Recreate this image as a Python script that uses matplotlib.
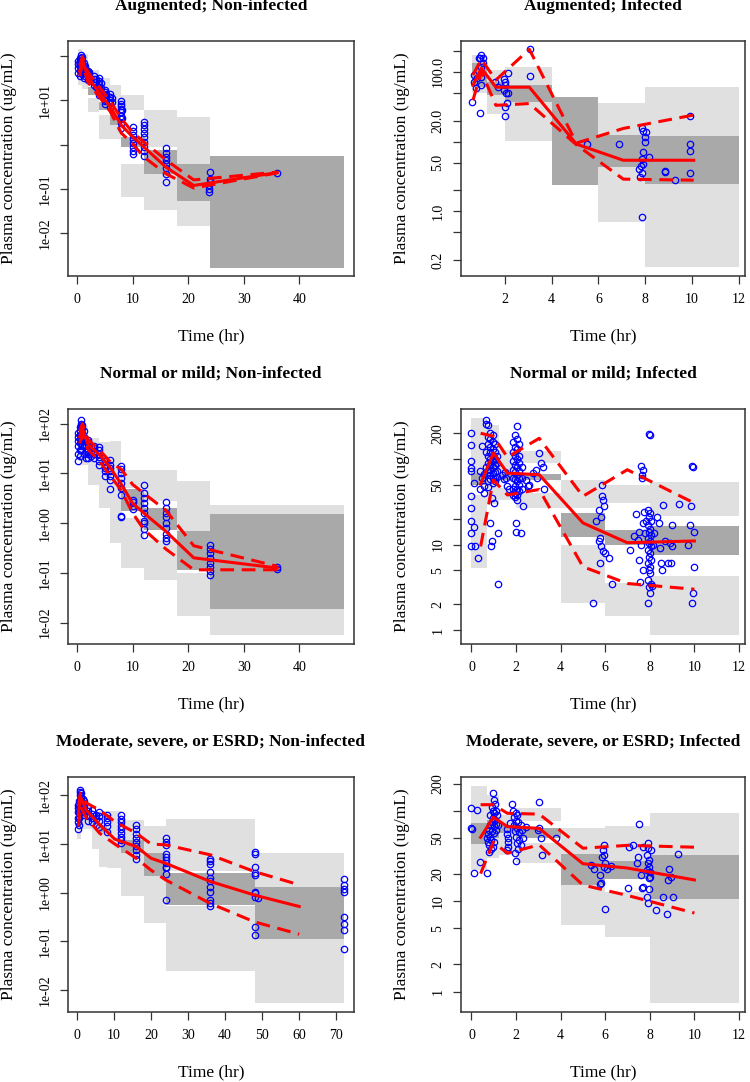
import numpy as np
import matplotlib.pyplot as plt
from matplotlib.ticker import NullLocator

plt.rcParams['font.family'] = ['Liberation Serif', 'DejaVu Serif']

LIGHT = '#e0e0e0'
DARK = '#a9a9a9'

# ---------------- Panel 1: Augmented; Non-infected ----------------
p1_bin_lo = [0.2, 1, 2, 4, 6, 8, 12, 18, 24]
p1_bin_hi = [1, 2, 4, 6, 8, 12, 18, 24, 48]
p1_pi05 = [(22, 40), (18, 30), (5.5, 10.9), (1.36, 4.6), (1.36, 2.7), (0.066, 0.37), (0.033, 0.22), (0.0144, 0.055), (0.0017, 0.0017)]
p1_pi50 = [(45, 52), (35, 55), (13, 20), (6, 9), (2.7, 4.6), (0.89, 1.5), (0.22, 0.74), (0.055, 0.37), (0.0017, 0.56)]
p1_pi95 = [(60, 139), (60, 110), (23.8, 47.5), (11.9, 31), (5.9, 21.8), (5.9, 13), (0.89, 6.1), (0.37, 4.2), (0.56, 0.56)]
p1_obs_time = [0.25, 0.5, 0.75, 1.0, 1.25, 1.5, 2.0, 2.25, 3.0, 3.5, 4.0, 4.25, 5.0, 5.25,
               6.0, 6.25, 8.0, 8.1, 10.0, 12.0, 16.0, 23.8, 24.0, 36.0]
p1_obs_conc = [[40, 52, 64, 75], [35, 45, 55, 68, 80, 90], [45, 60, 75, 90, 105], [38, 50, 62, 78, 95],
               [32, 42, 55, 70], [35, 48, 60], [28, 32, 36, 41, 46], [30, 38, 44], [22, 26, 30, 35],
               [20, 25, 30], [13, 15, 17.5, 20, 23, 27, 31], [14, 19, 24], [8, 9.5, 11, 13, 15, 17],
               [10, 14], [7, 8.5, 10, 12, 14], [9, 11], [2.3, 3.0, 3.7, 4.5, 5.3, 6.2, 7.2, 8.3, 9.5],
               [4, 6], [0.6, 0.72, 0.9, 1.1, 1.35, 1.6, 2.0, 2.5],
               [0.55, 0.7, 0.9, 1.15, 1.45, 1.8, 2.2, 2.7, 3.3],
               [0.14, 0.22, 0.29, 0.36, 0.44, 0.53, 0.65, 0.85], [0.085, 0.1, 0.12], [0.14, 0.17, 0.24], [0.23]]
p1_vpc_time = [0.5, 1, 2, 4, 6, 8, 10, 12, 16, 21, 36]
p1_obs_med = [45, 80, 32, 15, 7, 2.7, 1.5, 0.89, 0.31, 0.12, 0.234]
p1_obs_p95 = [60, 95, 42, 20, 9.5, 3.8, 1.9, 1.15, 0.45, 0.16, 0.24]
p1_obs_p05 = [35, 65, 25, 12, 5.5, 1.8, 1.05, 0.53, 0.22, 0.105, 0.23]

# ---------------- Panel 2: Augmented; Infected ----------------
p2_bin_lo = [0.6, 1.23, 2, 4, 6, 8]
p2_bin_hi = [1.23, 2, 4, 6, 8, 12]
p2_pi05 = [(50, 61), (25, 46), (10.1, 37), (2.38, 2.38), (0.71, 4.35), (0.16, 2.45)]
p2_pi50 = [(61, 132), (46, 72), (37, 64), (2.38, 44), (4.35, 12.4), (2.45, 12)]
p2_pi95 = [(132, 175), (72, 106), (64, 118), (44, 44), (12.4, 36), (12, 61)]
p2_obs = [(0.59, 37.1), (0.69, 89.6), (0.69, 71.9), (0.76, 57.7), (0.83, 80.2), (0.95, 25.3), (0.95, 155),
          (1.0, 173), (1.05, 155), (0.9, 155), (0.97, 118), (1.0, 84.8), (0.97, 64.4), (1.05, 132),
          (1.59, 71.9), (1.73, 61), (1.98, 78.5), (2.0, 71.9), (2.02, 64.4), (1.98, 54.6), (2.05, 48.9),
          (2.0, 31.5), (2.09, 36), (2.02, 23.2), (2.12, 96.8), (2.15, 48.9), (3.08, 86.6), (3.09, 209),
          (5.5, 9.2), (6.88, 9.2), (7.85, 15.4), (7.92, 14.3), (7.99, 11.7), (7.97, 9.9), (7.89, 7.1),
          (7.85, 5.54), (7.92, 4.85), (7.81, 4.5), (7.75, 4.1), (7.85, 3.49), (7.78, 3.06), (8.02, 13.8),
          (8.14, 6.05), (7.85, 0.835), (8.85, 3.81), (8.83, 3.69), (9.25, 2.86), (9.93, 23.2),
          (9.93, 9.2), (9.93, 7.4), (9.93, 3.49)]
p2_vpc_time = [0.64, 1.0, 1.62, 3.05, 5.06, 7.06, 10.07]
p2_obs_med = [64, 112, 60, 60, 9.2, 5.4, 5.4]
p2_obs_p95 = [90, 150, 76, 209, 9.5, 15.4, 24]
p2_obs_p05 = [39, 100, 33, 35, 9.0, 2.9, 2.8]

# ---------------- Panel 3: Normal or mild; Non-infected ----------------
p3_bin_lo = [0.2, 1, 2, 4, 6, 8, 12, 18, 24]
p3_bin_hi = [1, 2, 4, 6, 8, 12, 18, 24, 48]
p3_pi05 = [(18, 35), (15, 30), (5.9, 20), (2.0, 12), (0.395, 8), (0.124, 1.26), (0.072, 0.46), (0.0136, 0.098), (0.0056, 0.0185)]
p3_pi50 = [(35, 50), (35, 50), (20, 20), (12, 12), (8, 8), (1.72, 4.84), (0.71, 2.0), (0.115, 0.70), (0.0185, 1.54)]
p3_pi95 = [(50, 110), (50, 90), (20, 51), (12, 43), (8, 44), (5.07, 11.9), (2.73, 11.9), (0.70, 6.9), (1.54, 2.34)]
p3_obs_time = [0.25, 0.5, 0.75, 1.0, 1.3, 1.7, 2.0, 2.5, 3.0, 4.0, 5.0, 6.0, 8.0, 10.0, 12.0, 16.0, 24.0, 36.0]
p3_obs_conc = [[18, 25, 35, 45, 55, 65], [22, 30, 40, 50, 60, 72, 85], [30, 45, 60, 80, 100, 120],
               [35, 50, 65, 80, 95], [25, 35, 45, 55, 70], [20, 28, 38], [20, 25, 30, 36, 42, 47],
               [22, 28, 34], [20, 24, 28, 32, 36], [15, 18, 21, 25, 30, 34], [9, 11, 13, 15, 18],
               [4.8, 7.5, 9, 11, 13, 15, 19], [1.35, 1.4, 3.7, 5, 6.5, 8, 10, 12, 14], [1.9, 2.2, 2.6, 2.9],
               [0.58, 0.75, 1.0, 1.1, 1.6, 2.0, 2.5, 3.2, 4.0, 5.9],
               [0.43, 0.5, 0.6, 0.8, 1.0, 1.3, 1.6, 2.0, 2.7],
               [0.09, 0.11, 0.13, 0.16, 0.2, 0.25, 0.3, 0.37], [0.12, 0.13]]
p3_vpc_time = [0.5, 1, 2, 4, 6, 8, 10, 12, 16, 21, 36]
p3_obs_med = [55, 80, 38, 24, 13, 6, 2.5, 1.6, 0.68, 0.2, 0.125]
p3_obs_p95 = [70, 100, 48, 30, 17, 12, 6, 4.0, 1.8, 0.35, 0.135]
p3_obs_p05 = [40, 60, 30, 18, 9, 4.5, 1.6, 0.75, 0.3, 0.115, 0.115]

# ---------------- Panel 4: Normal or mild; Infected ----------------
p4_bin_lo = [0, 0.7, 1.25, 2, 4, 6, 8]
p4_bin_hi = [0.7, 1.25, 2, 4, 6, 8, 12]
p4_pi05 = [(5.28, 38.2), (30, 60), (32.8, 45.7), (26.7, 40), (2.09, 9.9), (1.44, 3.52), (0.875, 4.3)]
p4_pi50 = [(49.2, 68.5), (70, 100), (56.3, 66.7), (56.3, 66.7), (12.1, 23.3), (9.9, 14.9), (7.57, 16.5)]
p4_pi95 = [(68.5, 303), (100, 250), (68.5, 129), (89.8, 123), (26.7, 57.3), (30.5, 50), (21.3, 53.3)]
p4_obs = [(0, 200), (0, 145), (0, 96), (0, 78), (0, 72), (0, 37), (0, 27), (0, 18.6), (0, 13.8), (0, 9.5),
          (0.1, 16), (0.1, 52), (0.18, 9.5), (0.29, 6.9), (0.38, 72), (0.38, 45), (0.48, 143), (0.48, 60),
          (0.55, 48), (0.55, 66), (0.55, 40),
          (0.65, 289), (0.65, 260), (0.65, 120), (0.65, 80),
          (0.75, 250), (0.75, 180), (0.75, 150), (0.75, 110), (0.75, 90), (0.75, 70), (0.75, 55), (0.75, 47),
          (0.85, 200), (0.85, 170), (0.85, 140), (0.85, 120), (0.85, 100), (0.85, 85), (0.85, 75), (0.85, 65), (0.85, 58),
          (0.95, 190), (0.95, 160), (0.95, 130), (0.95, 110), (0.95, 95), (0.95, 80), (0.95, 68), (0.95, 60), (0.95, 52),
          (1.05, 150), (1.05, 120), (1.05, 100), (1.05, 85), (1.05, 70), (1.05, 60), (1.05, 55),
          (1.15, 110), (1.15, 90), (1.15, 72), (1.15, 62),
          (0.86, 9.5), (0.94, 10.9), (1.0, 30.5), (0.83, 17.9), (1.19, 3.5), (1.19, 13.6), (0.9, 35),
          (1.35, 65), (1.45, 58), (1.55, 60), (1.6, 48), (1.7, 45), (1.5, 70),
          (1.85, 160), (1.85, 120), (1.85, 95), (1.85, 75), (1.85, 60), (1.85, 45), (1.85, 38),
          (1.95, 190), (1.95, 140), (1.95, 110), (1.95, 85), (1.95, 70), (1.95, 58), (1.95, 48), (1.95, 40), (1.95, 36),
          (2.05, 242), (2.05, 170), (2.05, 130), (2.05, 100), (2.05, 80), (2.05, 65), (2.05, 55), (2.05, 45), (2.05, 38), (2.05, 33),
          (2.15, 150), (2.15, 110), (2.15, 90), (2.15, 72), (2.15, 60), (2.15, 50), (2.15, 42),
          (2.25, 80), (2.25, 60), (2.25, 45),
          (2.0, 17.9), (2.0, 14.1), (2.2, 13.6), (2.3, 28),
          (2.45, 57), (2.6, 50), (2.75, 68), (2.9, 75), (2.95, 60), (3.05, 118), (3.1, 90), (3.2, 80), (3.25, 45), (2.55, 48),
          (5.45, 2.06), (5.6, 18.6), (5.7, 25.5), (5.75, 12), (5.8, 21), (5.85, 50), (5.9, 33), (5.95, 28),
          (5.8, 9.5), (5.7, 11), (5.9, 8.5), (6.0, 7.9), (5.75, 6.1), (6.16, 6.9), (6.3, 3.5), (5.85, 37),
          (7.1, 8.7), (7.3, 12.5), (7.4, 23), (7.45, 11.4), (7.6, 84), (7.7, 75), (7.65, 65), (7.7, 17.8),
          (7.5, 6.6), (7.55, 3.6), (7.8, 13.6), (7.85, 19), (7.5, 14), (7.6, 10), (7.7, 5), (7.75, 24), (7.65, 60),
          (7.95, 197), (8.0, 192), (7.9, 25.5), (8.0, 23.3), (7.95, 21), (8.05, 19), (7.9, 17), (8.0, 15),
          (7.95, 14), (8.05, 13), (7.9, 12), (8.0, 11), (7.95, 10.4), (8.05, 9.5), (7.9, 8.7), (8.0, 8),
          (7.95, 7.2), (8.05, 6.6), (7.9, 6), (8.0, 5.5), (7.95, 5), (8.0, 4.6), (7.9, 3.8), (8.05, 3.5),
          (7.95, 3.2), (8.0, 2.7), (7.9, 2.06),
          (8.2, 13.6), (8.3, 21.2), (8.4, 17.8), (8.45, 9), (8.5, 6), (8.55, 5.1), (8.6, 29), (8.7, 11),
          (8.8, 6.0), (8.9, 10.5), (9.0, 17), (9.0, 9.5), (9.3, 30), (9.7, 10), (9.8, 17), (9.85, 28),
          (9.9, 82), (9.95, 80), (9.9, 2.06), (9.95, 2.7), (10.0, 5.5), (10.0, 14), (8.95, 6.0), (8.1, 3.3), (8.15, 10)]
p4_vpc_time = [0.41, 0.98, 1.61, 3.04, 5.0, 6.99, 10.0]
p4_obs_med = [51, 118, 68.5, 65.6, 17.9, 10.5, 11]
p4_obs_p95 = [200, 185, 105, 175, 36.7, 75, 30.5]
p4_obs_p05 = [9.5, 57, 38, 44, 5.5, 3.5, 3.0]

# ---------------- Panel 5: Moderate, severe, or ESRD; Non-infected ----------------
p5_bin_lo = [0, 1, 2, 4, 6, 8, 12, 18, 24, 48]
p5_bin_hi = [1, 2, 4, 6, 8, 12, 18, 24, 48, 72]
p5_pi05 = [(12.6, 25), (20, 35), (20.6, 35), (8, 20), (3.4, 18), (3.2, 12), (0.853, 6.5), (0.24, 2.2), (0.0247, 0.54), (0.0054, 0.109)]
p5_pi50 = [(25, 40), (35, 50), (35, 35), (20, 20), (18, 25), (12, 12), (6.5, 12.2), (2.2, 6.5), (0.557, 2.58), (0.109, 1.33)]
p5_pi95 = [(40, 100), (50, 100), (35, 50.7), (20, 42), (25, 46.8), (12, 48.3), (12.2, 31.5), (6.5, 23), (2.8, 32.5), (1.33, 6.5)]
p5_obs_time = [0.2, 0.5, 0.8, 1.0, 1.5, 2.0, 3.0, 4.0, 5.0, 6.0, 8.0, 12.0, 16.0, 24.0, 36.0, 48.0, 49.0, 72.0]
p5_obs_conc = [[20, 28, 35, 45, 55, 65], [25, 35, 45, 60, 75], [60, 80, 100, 120, 130], [50, 70, 90, 110],
               [45, 55, 70, 85], [40, 50, 60, 75], [30, 38, 48, 58], [28, 35, 42, 50], [25, 32, 40],
               [22, 30, 38, 45], [18, 23, 28, 34, 40], [10.4, 12, 14, 17, 20, 24, 28, 33, 40],
               [5, 6, 7.5, 9, 11, 13, 16, 20, 24.8],
               [0.71, 2.4, 3.2, 3.4, 4.0, 4.7, 5.5, 6.3, 9.6, 11.2, 13.2],
               [0.52, 0.6, 0.71, 1.05, 1.33, 1.7, 2.0, 2.6, 3.85, 4.4, 4.9],
               [0.137, 0.2, 0.81, 0.98, 1.05, 2.3, 2.5, 3.4, 6.3, 6.9], [0.77],
               [0.07, 0.167, 0.23, 0.31, 1.05, 1.17, 1.43, 1.9]]
p5_vpc_time = [0.36, 0.9, 2.5, 6.1, 10.2, 16, 20, 24, 36, 48, 60]
p5_obs_med = [40, 95, 50, 25, 12.6, 8.9, 5.1, 4.0, 1.7, 0.89, 0.52]
p5_obs_p95 = [60, 110, 70, 50, 29, 16.7, 10, 9.6, 6.0, 2.7, 1.45]
p5_obs_p05 = [23, 60, 35, 16.7, 10, 5.1, 2.9, 1.82, 0.6, 0.25, 0.14]

# ---------------- Panel 6: Moderate, severe, or ESRD; Infected ----------------
p6_bin_lo = [0, 0.7, 1.23, 2, 4, 6, 8]
p6_bin_hi = [0.7, 1.23, 2, 4, 6, 8, 12]
p6_pi05 = [(22, 43.1), (30, 50), (32.6, 56.6), (26.8, 43.9), (5.45, 15.1), (4.05, 12.8), (0.75, 10.5)]
p6_pi50 = [(43.1, 73.2), (50, 80), (56.6, 70), (49.9, 64.4), (15.1, 33.4), (17.5, 28.2), (10.5, 32.1)]
p6_pi95 = [(73.2, 190), (80, 150), (70, 90), (76.4, 107), (33.4, 64.4), (28.2, 67.2), (32.1, 94.5)]
p6_obs = [(0.0, 108), (0.0, 64.4), (0.02, 63), (0.1, 20.4), (0.26, 103), (0.38, 27), (0.68, 20.4),
          (0.7, 50), (0.72, 45), (0.75, 55), (0.78, 62), (0.8, 42), (0.82, 70), (0.85, 90), (0.85, 52),
          (0.88, 48), (0.9, 110), (0.9, 75), (0.92, 60), (0.95, 100), (0.95, 83), (0.97, 40), (0.98, 157),
          (1.0, 133), (1.0, 95), (1.02, 68), (1.02, 57), (1.05, 120), (1.05, 80), (1.08, 62), (1.1, 100),
          (1.1, 72), (1.15, 90), (1.2, 70), (0.78, 35), (0.88, 38), (1.0, 45),
          (1.6, 63), (1.6, 55), (1.62, 50), (1.62, 45), (1.65, 40), (1.6, 37), (1.75, 74), (1.84, 119),
          (1.88, 100), (1.9, 85), (1.92, 70), (1.95, 60), (1.95, 34), (1.98, 27.9), (2.0, 95), (2.0, 78),
          (2.0, 52), (2.02, 44), (2.05, 90), (2.05, 65), (2.08, 38), (2.1, 75), (2.12, 58), (2.15, 48),
          (2.2, 42), (2.25, 62), (2.3, 50), (2.45, 67), (2.2, 70),
          (3.04, 126), (3.0, 61.7), (3.1, 49.9), (3.15, 32.7), (3.05, 64), (3.8, 49.9),
          (5.38, 25.3), (5.5, 22.6), (5.75, 15.4), (5.8, 15.8), (5.75, 19.6), (5.85, 31.2), (5.9, 37),
          (5.95, 42), (5.93, 32.6), (6.0, 26.3), (6.0, 8.3), (5.95, 24), (6.1, 23), (6.28, 24.6),
          (7.03, 13.9), (7.06, 39.8), (7.26, 42.2), (7.44, 26.8), (7.48, 30.6), (7.52, 71.9), (7.59, 19.5),
          (7.63, 13.9), (7.7, 14.5), (7.68, 40.3),
          (7.86, 32.6), (7.9, 38.7), (7.92, 43.9), (7.95, 28.6), (7.92, 26.3), (7.86, 22.2), (8.0, 20.8),
          (7.95, 17.9), (7.86, 11.2), (7.9, 9.6), (7.95, 13.6), (8.0, 18.7), (7.98, 24.2), (8.05, 36.5),
          (8.27, 7.9), (8.57, 11.2), (8.77, 7.3), (8.8, 17.2), (8.87, 22.6), (8.95, 18.7), (9.02, 11.2), (9.26, 33.4)]
p6_vpc_time = [0.41, 0.98, 1.61, 3.04, 5.0, 6.99, 10.0]
p6_obs_med = [51, 85, 67, 64, 26, 23.3, 17.2]
p6_obs_p95 = [117, 117, 94, 92, 38.6, 41.5, 39.6]
p6_obs_p05 = [20.2, 45, 34, 42, 15.1, 11.6, 7.4]

# axis settings
log_ticks = [1e2, 1e1, 1e0, 1e-1, 1e-2]
lin_ticks = [1, 2, 5, 10, 20, 50, 100, 200]


def expand(times, groups):
    t = np.repeat(times, [len(g) for g in groups])
    c = np.concatenate([np.array(g, float) for g in groups])
    return t, c


def pairs(p):
    a = np.array(p, float)
    return a[:, 0], a[:, 1]


def draw(ax, title, b_lo, b_hi, pi05, pi50, pi95, ot, oc, vt, vmed, v05, v95,
         xlim, ylim, xticks, yticks, ylabels):
    ax.set_yscale('log')
    b_lo = np.array(b_lo, float)
    w = np.array(b_hi, float) - b_lo
    for band, col in ((pi05, LIGHT), (pi95, LIGHT), (pi50, DARK)):
        band = np.array(band, float)
        ax.bar(b_lo, band[:, 1] - band[:, 0], width=w, bottom=band[:, 0], align='edge',
               color=col, linewidth=0, zorder=1)
    ax.plot(ot, oc, 'o', mfc='none', mec='#0000ff', ms=4.6, mew=0.9, zorder=2)
    ax.plot(vt, vmed, color='#ff0000', lw=2.2, zorder=3)
    ax.plot(vt, v05, color='#ff0000', lw=2.2, dashes=(4.5, 2.5), zorder=3)
    ax.plot(vt, v95, color='#ff0000', lw=2.2, dashes=(4.5, 2.5), zorder=3)
    ax.set_xlim(xlim)
    ax.set_ylim(ylim)
    ax.set_xticks(xticks)
    ax.set_xticklabels([str(v) for v in xticks], fontsize=10)
    ax.set_yticks(yticks)
    ax.set_yticklabels(ylabels, rotation=90, va='center', fontsize=10)
    ax.yaxis.set_minor_locator(NullLocator())
    ax.xaxis.set_minor_locator(NullLocator())
    ax.tick_params(length=6, width=0.9, color='#333333', pad=6)
    for s in ax.spines.values():
        s.set_color('#333333')
        s.set_linewidth(1.1)
    ax.set_xlabel('Time (hr)', fontsize=12.5, va='center')
    ax.xaxis.set_label_coords(0.5, -60 / 235)
    ax.set_ylabel('Plasma concentration (ug/mL)', fontsize=12.5, va='center')
    ax.yaxis.set_label_coords(-59 / 285, 0.5)
    ax.text(0.5, 1 + 35 / 235, title, transform=ax.transAxes, ha='center', va='center',
            fontsize=12.5, fontweight='bold')


fig = plt.figure(figsize=(7.5, 10.82), dpi=100)
W, H = 750, 1082


def axes_at(left, top, width, height=235):
    return fig.add_axes([left / W, 1 - (top + height) / H, width / W, height / H])


ax1 = axes_at(68, 41, 286)
ax2 = axes_at(461, 41, 284)
ax3 = axes_at(68, 409, 286)
ax4 = axes_at(461, 409, 284)
ax5 = axes_at(68, 777, 286)
ax6 = axes_at(461, 777, 284)

t1, c1 = expand(p1_obs_time, p1_obs_conc)
draw(ax1, 'Augmented; Non-infected', p1_bin_lo, p1_bin_hi, p1_pi05, p1_pi50, p1_pi95, t1, c1,
     p1_vpc_time, p1_obs_med, p1_obs_p05, p1_obs_p95, (-1.6, 49.8), (0.0011, 214),
     [0, 10, 20, 30, 40], log_ticks, ['', '1e+01', '', '1e-01', '1e-02'])

t2, c2 = pairs(p2_obs)
draw(ax2, 'Augmented; Infected', p2_bin_lo, p2_bin_hi, p2_pi05, p2_pi50, p2_pi95, t2, c2,
     p2_vpc_time, p2_obs_med, p2_obs_p05, p2_obs_p95, (0.13, 12.26), (0.119, 275),
     [2, 4, 6, 8, 10, 12], [0.2, 0.5, 1, 2, 5, 10, 20, 50, 100, 200],
     ['0.2', '', '1.0', '', '5.0', '', '20.0', '', '100.0', ''])

t3, c3 = expand(p3_obs_time, p3_obs_conc)
draw(ax3, 'Normal or mild; Non-infected', p3_bin_lo, p3_bin_hi, p3_pi05, p3_pi50, p3_pi95, t3, c3,
     p3_vpc_time, p3_obs_med, p3_obs_p05, p3_obs_p95, (-1.6, 49.8), (0.0037, 197),
     [0, 10, 20, 30, 40], log_ticks, ['1e+02', '1e+01', '1e+00', '1e-01', '1e-02'])

t4, c4 = pairs(p4_obs)
draw(ax4, 'Normal or mild; Infected', p4_bin_lo, p4_bin_hi, p4_pi05, p4_pi50, p4_pi95, t4, c4,
     p4_vpc_time, p4_obs_med, p4_obs_p05, p4_obs_p95, (-0.47, 12.27), (0.686, 385),
     [0, 2, 4, 6, 8, 10, 12], lin_ticks, ['1', '2', '5', '10', '', '50', '', '200'])

t5, c5 = expand(p5_obs_time, p5_obs_conc)
draw(ax5, 'Moderate, severe, or ESRD; Non-infected', p5_bin_lo, p5_bin_hi, p5_pi05, p5_pi50, p5_pi95,
     t5, c5, p5_vpc_time, p5_obs_med, p5_obs_p05, p5_obs_p95, (-2.43, 74.8), (0.00352, 239),
     [0, 10, 20, 30, 40, 50, 60, 70], log_ticks, ['1e+02', '1e+01', '1e+00', '1e-01', '1e-02'])

t6, c6 = pairs(p6_obs)
draw(ax6, 'Moderate, severe, or ESRD; Infected', p6_bin_lo, p6_bin_hi, p6_pi05, p6_pi50, p6_pi95,
     t6, c6, p6_vpc_time, p6_obs_med, p6_obs_p05, p6_obs_p95, (-0.47, 12.27), (0.594, 237),
     [0, 2, 4, 6, 8, 10, 12], lin_ticks, ['1', '2', '5', '10', '20', '50', '', '200'])

fig.savefig('out.png', dpi=100)
